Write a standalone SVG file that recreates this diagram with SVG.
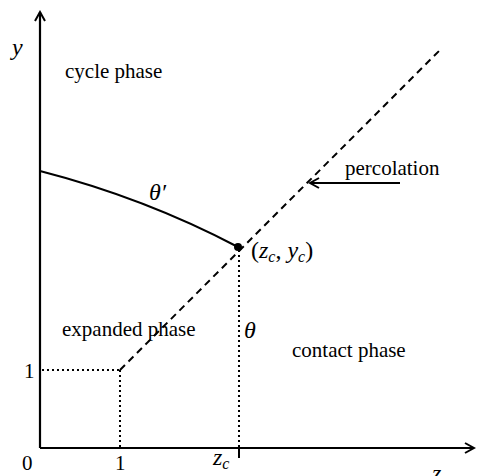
<svg xmlns="http://www.w3.org/2000/svg" width="477" height="476" viewBox="0 0 477 476">
<style>
text{font-family:"Liberation Serif","Times New Roman","DejaVu Serif",serif;font-size:21px;fill:#000}
.it{font-style:italic}
.m{font-size:24px}
.sub{font-style:italic;font-size:16px}
.ax{stroke:#000;stroke-width:2.2;fill:none}
.dot{stroke:#000;stroke-width:2;stroke-dasharray:2,3;fill:none}
.dash{stroke:#000;stroke-width:2;stroke-dasharray:7,5;fill:none}
</style>
<defs>
<marker id="ah" markerWidth="12" markerHeight="12" refX="10" refY="6" orient="auto" markerUnits="userSpaceOnUse">
<path d="M1,1 L10,6 L1,11" fill="none" stroke="#000" stroke-width="2"/>
</marker>
</defs>
<g id="connectors">
<line class="ax" x1="40" y1="448" x2="40" y2="12" marker-end="url(#ah)"/>
<line class="ax" x1="40" y1="448" x2="474" y2="448" marker-end="url(#ah)"/>
<line class="dot" x1="42" y1="370" x2="120" y2="370"/>
<line class="dot" x1="120" y1="370" x2="120" y2="447"/>
<line class="dot" x1="239" y1="250" x2="239" y2="447"/>
<line x1="239" y1="448" x2="239" y2="458" stroke="#000" stroke-width="2"/>
<line class="dash" x1="120" y1="370" x2="441" y2="49"/>
<path d="M40,171 Q145,198 238,247" fill="none" stroke="#000" stroke-width="2"/>
<circle cx="238" cy="247" r="4" fill="#000"/>
<line x1="400" y1="183" x2="310" y2="183" stroke="#000" stroke-width="2" marker-end="url(#ah)"/>
</g>
<g id="labels">
<text x="12" y="55" class="it m">y</text>
<text x="65" y="78">cycle phase</text>
<text x="345" y="175">percolation</text>
<text x="149" y="200" class="it m">θ′</text>
<text x="251" y="258" class="m">(<tspan class="it">z</tspan><tspan class="sub" dy="4">c</tspan><tspan dy="-4">, </tspan><tspan class="it">y</tspan><tspan class="sub" dy="4">c</tspan><tspan dy="-4">)</tspan></text>
<text x="62" y="336">expanded phase</text>
<text x="244" y="338" class="it m">θ</text>
<text x="292" y="357">contact phase</text>
<text x="24" y="378">1</text>
<text x="22" y="470">0</text>
<text x="115" y="470">1</text>
<text x="213" y="465" class="it m">z<tspan class="sub" dy="4">c</tspan></text>
<text x="432" y="481" class="it m">z</text>
</g>
</svg>
